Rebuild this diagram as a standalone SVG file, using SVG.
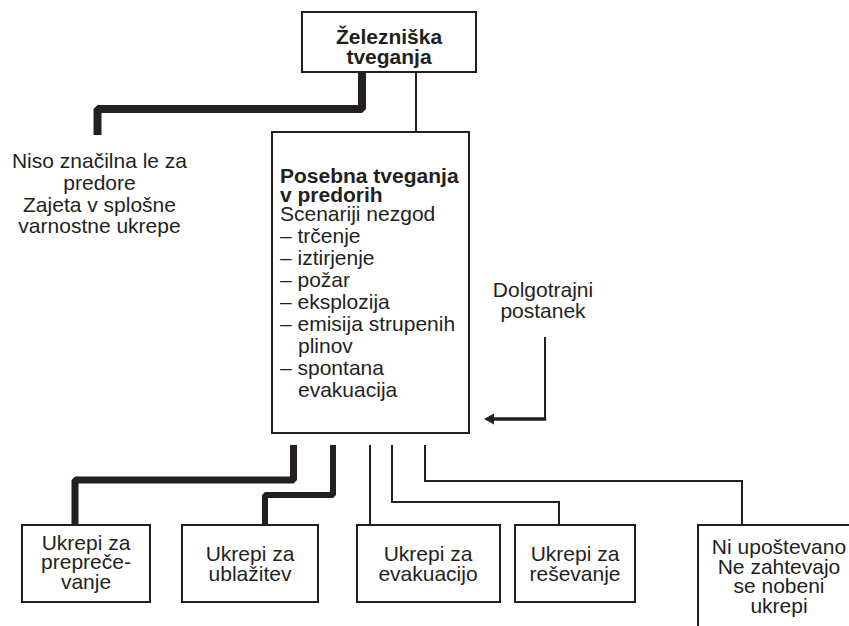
<svg xmlns="http://www.w3.org/2000/svg" width="849" height="626" viewBox="0 0 849 626">
<style>
.box{fill:#fff;stroke:#231f20;stroke-width:2}
.t{font-family:"Liberation Sans",Arial,sans-serif;font-size:21px;fill:#231f20}
.b{font-weight:bold}
.c{text-anchor:middle}
.thick{fill:none;stroke:#231f20;stroke-linejoin:bevel}
.thin{fill:none;stroke:#231f20;stroke-width:2;stroke-linejoin:miter}
</style>
<rect width="849" height="626" fill="#fff"/>
<g id="connectors">
<path class="thick" d="M362,72 V109 H97.5 V135" stroke-width="8"/>
<path class="thin" d="M416,72 V132" stroke-width="3.5"/>
<path class="thick" d="M293.5,445 V480 H75 V525" stroke-width="7"/>
<path class="thick" d="M333,445 V495 H265 V525" stroke-width="6"/>
<path class="thin" d="M370,445 V525"/>
<path class="thin" d="M392,445 V502 H559 V525"/>
<path class="thin" d="M425,445 V481 H742 V525"/>
<path class="thin" d="M545,337 V419" stroke-width="2.5"/>
<path d="M490,419 H546.2" stroke="#231f20" stroke-width="3.5"/>
<polygon points="484,419 494,413.5 494,424.5" fill="#231f20"/>
</g>
<g id="n-zeleznica">
<rect class="box" x="302" y="12" width="174" height="60" stroke-width="2.5"/>
<text class="t b c" x="389" y="44">Železniška</text>
<text class="t b c" x="389" y="64">tveganja</text>
</g>
<g id="n-splosno">
<text class="t c" x="99.5" y="168">Niso značilna le za</text>
<text class="t c" x="99.5" y="190">predore</text>
<text class="t c" x="99.5" y="212">Zajeta v splošne</text>
<text class="t c" x="99.5" y="233">varnostne ukrepe</text>
</g>
<g id="n-posebna">
<rect class="box" x="272" y="132" width="197" height="301"/>
<text class="t b" x="280" y="183">Posebna tveganja</text>
<text class="t b" x="280" y="202">v predorih</text>
<text class="t" x="280" y="221">Scenariji nezgod</text>
<text class="t" x="280" y="243">– trčenje</text>
<text class="t" x="280" y="265">– iztirjenje</text>
<text class="t" x="280" y="287">– požar</text>
<text class="t" x="280" y="309">– eksplozija</text>
<text class="t" x="280" y="331">– emisija strupenih</text>
<text class="t" x="298" y="353">plinov</text>
<text class="t" x="280" y="375">– spontana</text>
<text class="t" x="298" y="397">evakuacija</text>
</g>
<g id="n-postanek">
<text class="t c" x="543" y="297">Dolgotrajni</text>
<text class="t c" x="543" y="318">postanek</text>
</g>
<g id="n-preprecevanje">
<rect class="box" x="22" y="525" width="128" height="77"/>
<text class="t c" x="86" y="550">Ukrepi za</text>
<text class="t c" x="86" y="569">prepreče-</text>
<text class="t c" x="86" y="589">vanje</text>
</g>
<g id="n-ublazitev">
<rect class="box" x="182" y="525" width="136" height="77"/>
<text class="t c" x="250" y="561">Ukrepi za</text>
<text class="t c" x="250" y="581">ublažitev</text>
</g>
<g id="n-evakuacija">
<rect class="box" x="357" y="525" width="143" height="77"/>
<text class="t c" x="428" y="561">Ukrepi za</text>
<text class="t c" x="428" y="581">evakuacijo</text>
</g>
<g id="n-resevanje">
<rect class="box" x="515" y="525" width="120" height="77"/>
<text class="t c" x="575" y="561">Ukrepi za</text>
<text class="t c" x="575" y="581">reševanje</text>
</g>
<g id="n-niupostevano">
<rect class="box" x="698" y="525" width="200" height="150"/>
<text class="t c" x="779" y="554">Ni upoštevano</text>
<text class="t c" x="779" y="574">Ne zahtevajo</text>
<text class="t c" x="779" y="593">se nobeni</text>
<text class="t c" x="779" y="613">ukrepi</text>
</g>
</svg>
